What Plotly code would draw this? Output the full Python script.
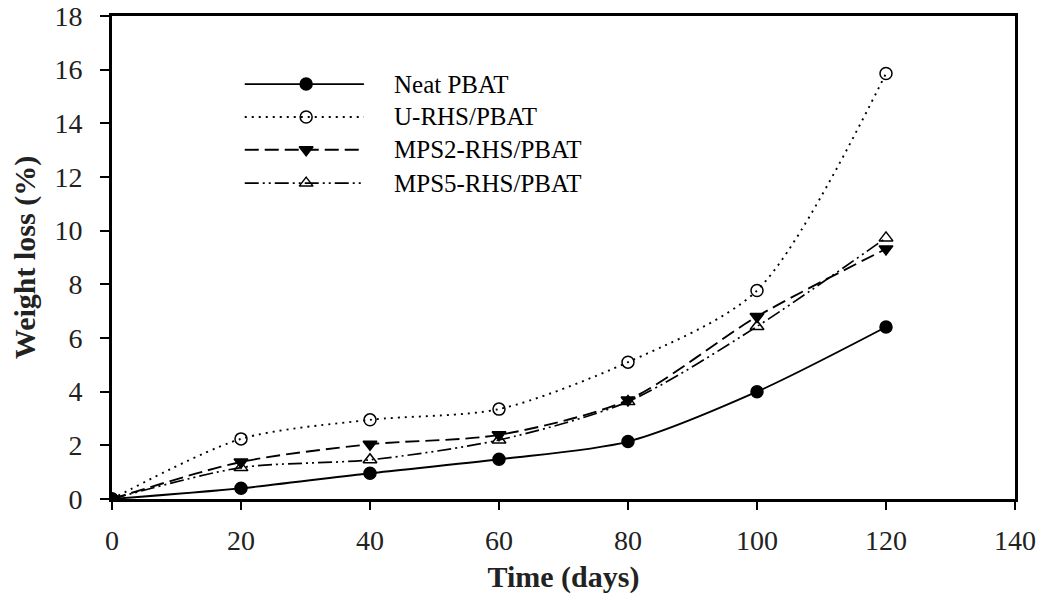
import plotly.graph_objects as go

days = [0, 20, 40, 60, 80, 100, 120]
neat_pbat = [0, 0.40, 0.96, 1.48, 2.14, 4.00, 6.41]
u_rhs = [0, 2.24, 2.95, 3.35, 5.10, 7.77, 15.86]
mps2_rhs = [0, 1.38, 2.04, 2.39, 3.69, 6.80, 9.32]
mps5_rhs = [0, 1.17, 1.46, 2.20, 3.63, 6.43, 9.73]

names = ["Neat PBAT", "U-RHS/PBAT", "MPS2-RHS/PBAT", "MPS5-RHS/PBAT"]
series = [neat_pbat, u_rhs, mps2_rhs, mps5_rhs]
dashes = ["solid", "2px,5px", "14px,6px", "14px,4px,2px,4px,2px,4px"]
symbols = ["circle", "circle-open", "triangle-down", "triangle-up-open"]
widths = [1.9, 1.9, 1.9, 1.7]

fig = go.Figure()
for name, ys, dash, sym, w in zip(names, series, dashes, symbols, widths):
    fig.add_trace(go.Scatter(
        x=days, y=ys, name=name, mode="lines+markers",
        line=dict(color="black", width=w, dash=dash, shape="spline", smoothing=0.8),
        marker=dict(symbol=sym, size=12, color="black", line=dict(color="black", width=1.5)),
        showlegend=False,
    ))

# custom legend (lines with a marker in the middle) on an invisible overlay axis
leg_x0, leg_xm, leg_x1, leg_tx = 0.147, 0.215, 0.279, 0.310
leg_rows = [0.859, 0.791, 0.723, 0.654]
for name, dash, sym, w, ry in zip(names, dashes, symbols, widths, leg_rows):
    fig.add_trace(go.Scatter(
        x=[leg_x0, leg_x1], y=[ry, ry], mode="lines", xaxis="x2", yaxis="y2",
        line=dict(color="black", width=w, dash=dash), showlegend=False, hoverinfo="skip",
    ))
    fig.add_trace(go.Scatter(
        x=[leg_xm], y=[ry], mode="markers", xaxis="x2", yaxis="y2",
        marker=dict(symbol=sym, size=12, color="black", line=dict(color="black", width=1.5)),
        showlegend=False, hoverinfo="skip",
    ))
    fig.add_annotation(x=leg_tx, y=ry, xref="x2", yref="y2", text=name, showarrow=False,
                       xanchor="left", yanchor="middle",
                       font=dict(family="Liberation Serif", size=25, color="black"))

axis_font = dict(family="Liberation Serif", size=28, color="#222")
title_font = dict(family="Liberation Serif", size=30, color="#222")
fig.update_layout(
    width=1042, height=609,
    margin=dict(l=112, r=27, t=16, b=110),
    paper_bgcolor="white", plot_bgcolor="white",
    font=dict(family="Liberation Serif", color="black"),
    xaxis=dict(
        range=[0, 140], tickvals=[0, 20, 40, 60, 80, 100, 120, 140],
        showgrid=False, zeroline=False, showline=True, linecolor="black", linewidth=3,
        mirror=True, ticks="outside", ticklen=8, tickwidth=1.5, tickcolor="black",
        tickfont=axis_font, automargin=False, ticklabelstandoff=6,
        title=dict(text="<b>Time (days)</b>", font=title_font, standoff=12),
    ),
    yaxis=dict(
        range=[0, 18], tickvals=[0, 2, 4, 6, 8, 10, 12, 14, 16, 18],
        showgrid=False, zeroline=False, showline=True, linecolor="black", linewidth=3,
        mirror=True, ticks="outside", ticklen=9, tickwidth=1.5, tickcolor="black",
        tickfont=axis_font, automargin=False, ticklabelstandoff=12,
        title=dict(text="<b>Weight loss (%)</b>", font=title_font, standoff=10),
    ),
    xaxis2=dict(overlaying="x", range=[0, 1], visible=False, fixedrange=True),
    yaxis2=dict(overlaying="y", range=[0, 1], visible=False, fixedrange=True),
)

fig.write_html("out.html")
